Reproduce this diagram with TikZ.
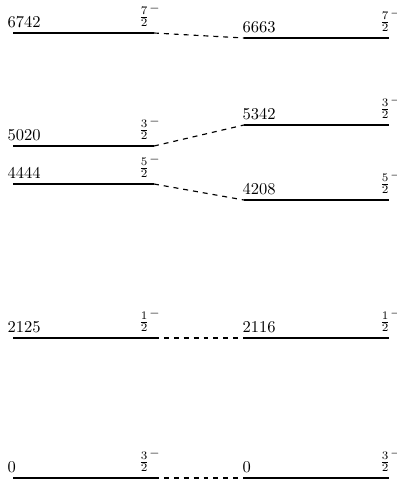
\documentclass[tikz,border=0pt]{standalone}
\begin{document}
\begin{tikzpicture}[x=0.606pt,y=-0.606pt,
  level/.style={line width=0.8pt},
  link/.style={dashed,line width=0.7pt},
  elab/.style={anchor=base west,inner sep=0pt},
  jlab/.style={anchor=south west,inner sep=0pt}]
\useasboundingbox (0,0) rectangle (396,479);
% levels: name / left y / right y
\foreach \n/\yl/\yr/\el/\er/\j in {a/33/38/6742/6663/7,b/146/125/5020/5342/3,c/184/200/4444/4208/5,d/338/338/2125/2116/1,e/478/478/0/0/3}{
  \coordinate (L\n a) at (13,\yl);
  \coordinate (L\n b) at (154,\yl);
  \coordinate (R\n a) at (244,\yr);
  \coordinate (R\n b) at (389,\yr);
  \draw[level] (L\n a) -- (L\n b);
  \draw[level] (R\n a) -- (R\n b);
  \draw[link] (L\n b) -- (R\n a);
  \node[elab] (El\n) at (7.3,\yl-5.7) {\el};
  \node[elab] (Er\n) at (242.3,\yr-5.7) {\er};
  \node[jlab] (Jl\n) at (138.5,\yl-5.7) {$\frac{\j}{2}^-$};
  \node[jlab] (Jr\n) at (379.5,\yr-5.7) {$\frac{\j}{2}^-$};
}
\end{tikzpicture}
\end{document}
